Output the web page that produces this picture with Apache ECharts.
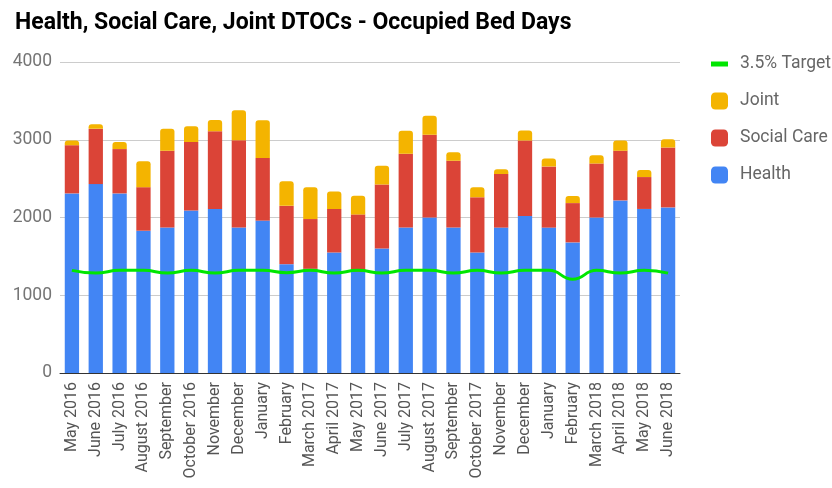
<!DOCTYPE html>
<html>
<head>
<meta charset="utf-8">
<script src="https://cdn.jsdelivr.net/npm/echarts@6/dist/echarts.min.js"></script>
<style>
  html, body { margin: 0; padding: 0; background: #fff; }
  #main { width: 832px; height: 488px; }
</style>
</head>
<body>
<div id="main"></div>
<script>
// months on the x axis
let months = [
  "May 2016", "June 2016", "July 2016", "August 2016", "September", "October 2016",
  "November", "December", "January", "February", "March 2017", "April 2017",
  "May 2017", "June 2017", "July 2017", "August 2017", "September", "October 2017",
  "November", "December", "January", "February", "March 2018", "April 2018",
  "May 2018", "June 2018"
];

let health = [2310, 2430, 2310, 1830, 1870, 2090, 2110, 1870, 1960, 1400, 1340, 1550,
  1300, 1600, 1870, 2000, 1870, 1550, 1870, 2020, 1870, 1680, 2000, 2220, 2110, 2130];
let socialCare = [620, 710, 570, 560, 990, 880, 1000, 1125, 805, 750, 640, 560,
  740, 825, 950, 1065, 860, 710, 690, 970, 785, 505, 695, 640, 410, 770];
let joint = [60, 60, 90, 335, 280, 205, 145, 385, 485, 315, 410, 225,
  240, 240, 295, 245, 110, 130, 60, 130, 105, 90, 105, 130, 90, 105];
let target = [1320, 1285, 1320, 1320, 1285, 1320, 1285, 1320, 1320, 1290, 1320, 1285,
  1320, 1285, 1320, 1320, 1285, 1320, 1285, 1320, 1320, 1205, 1320, 1285, 1320, 1285];

let yTicks = [0, 1000, 2000, 3000, 4000];

let chart = echarts.init(document.getElementById("main"));

let option = {
  backgroundColor: "#fff",
  animation: false,
  textStyle: { fontFamily: "Roboto" },
  title: {
    text: "Health, Social Care, Joint DTOCs - Occupied Bed Days",
    left: 10,
    top: 7,
    textStyle: { fontFamily: "Roboto", fontWeight: "bold", fontSize: 23, color: "#000" }
  },
  legend: {
    orient: "vertical",
    left: 706,
    top: 50,
    itemGap: 19,
    itemWidth: 17,
    itemHeight: 17,
    textStyle: { fontFamily: "Roboto", fontSize: 17.5, color: "#666", padding: [0, 0, 0, 7] },
    data: [
      { name: "3.5% Target", icon: "path://M0,0h17v5h-17z", itemStyle: { color: "#00e600" } },
      { name: "Joint", icon: "roundRect" },
      { name: "Social Care", icon: "roundRect" },
      { name: "Health", icon: "roundRect" }
    ]
  },
  grid: { left: 60, right: 152, top: 62, bottom: 115 },
  xAxis: {
    type: "category",
    data: months,
    axisTick: { show: false },
    axisLine: { lineStyle: { color: "#333" } },
    axisLabel: { rotate: 90, interval: 0, fontSize: 16, color: "#555", margin: 9 }
  },
  yAxis: {
    type: "value",
    min: yTicks[0],
    max: yTicks[yTicks.length - 1],
    interval: 1000,
    axisLine: { show: false },
    axisTick: { show: false },
    axisLabel: {
      fontSize: 17.5,
      color: "#757575",
      margin: 8,
      formatter: function (val) { return String(val); }
    },
    splitLine: { lineStyle: { color: "#ccc" } }
  },
  series: [
    {
      name: "Health",
      type: "bar",
      stack: "beds",
      barWidth: "60%",
      itemStyle: { color: "#4285f4" },
      data: health
    },
    {
      name: "Social Care",
      type: "bar",
      stack: "beds",
      itemStyle: { color: "#db4437" },
      data: socialCare
    },
    {
      name: "Joint",
      type: "bar",
      stack: "beds",
      itemStyle: { color: "#f4b400", borderRadius: [3, 3, 0, 0] },
      data: joint
    },
    {
      name: "3.5% Target",
      type: "line",
      smooth: true,
      symbol: "none",
      lineStyle: { color: "#00e600", width: 3 },
      itemStyle: { color: "#00e600" },
      data: target
    }
  ]
};

chart.setOption(option);
</script>
</body>
</html>
